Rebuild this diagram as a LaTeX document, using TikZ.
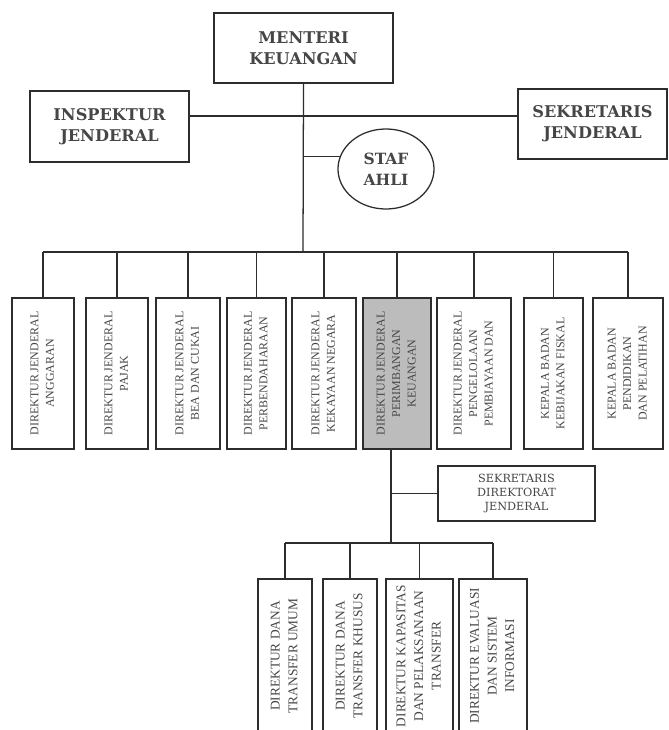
\documentclass[tikz,border=0pt]{standalone}
\usepackage{fontspec}
\setmainfont{DejaVu Serif}
\newfontfamily\narrowfont{Liberation Serif}
\usepackage{tikz}
\usetikzlibrary{shapes.geometric, positioning, calc}
\definecolor{linegray}{RGB}{45,45,45}
\definecolor{textgray}{RGB}{70,70,70}
\definecolor{shadegray}{RGB}{188,188,188}

\newcommand{\vtext}[1]{\rotatebox{90}{\begin{tabular}{@{}c@{}}#1\end{tabular}}}

\begin{document}
\begin{tikzpicture}[
  x=0.025cm, y=-0.025cm,
  topbox/.style={rectangle, draw=linegray, line width=0.9pt, fill=white, align=center,
                 text=textgray, font=\bfseries\fontsize{11.5}{15}\selectfont, inner sep=2pt},
  ahli/.style={ellipse, draw=linegray, line width=0.9pt, fill=white, align=center,
               text=textgray, font=\bfseries\fontsize{11}{15}\selectfont, inner sep=0pt},
  dirbox/.style={rectangle, draw=linegray, line width=0.9pt, fill=white, inner sep=1pt,
                 minimum height=3.775cm, text=textgray, font=\narrowfont\fontsize{8.5}{11}\selectfont},
  subbox/.style={dirbox, minimum height=3.85cm, font=\narrowfont\fontsize{9.5}{12.5}\selectfont},
  sesbox/.style={topbox, font=\fontsize{8}{10}\selectfont},
  link/.style={draw=linegray, line width=0.9pt}
]
\clip (0,0) rectangle (669,730);
\fill[white] (0,0) rectangle (669,730);

\node[topbox, minimum width=4.475cm, minimum height=1.75cm] (menteri) at (303.5,48) {MENTERI\\KEUANGAN};
\node[topbox, minimum width=3.975cm, minimum height=1.775cm] (irjen) at (109.5,126.5) {INSPEKTUR\\JENDERAL};
\node[topbox, minimum width=3.725cm, minimum height=1.75cm] (sekjen) at (592.5,124) {SEKRETARIS\\JENDERAL};
\node[ahli, minimum width=2.4cm, minimum height=2cm] (staf) at (386,169) {STAF\\AHLI};

\coordinate (hub) at (303,116);
\coordinate (bus) at (303,252);
\coordinate (lobus) at (391,543);

\node[dirbox, minimum width=1.55cm] (dj1) at (43,373.5) {\vtext{DIREKTUR JENDERAL\\ANGGARAN}};
\node[dirbox, minimum width=1.55cm] (dj2) at (117,373.5) {\vtext{DIREKTUR JENDERAL\\PAJAK}};
\node[dirbox, minimum width=1.6cm] (dj3) at (188,373.5) {\vtext{DIREKTUR JENDERAL\\BEA DAN CUKAI}};
\node[dirbox, minimum width=1.475cm] (dj4) at (256.5,373.5) {\vtext{DIREKTUR JENDERAL\\PERBENDAHARAAN}};
\node[dirbox, minimum width=1.6cm] (dj5) at (324,373.5) {\vtext{DIREKTUR JENDERAL\\KEKAYAAN NEGARA}};
\node[dirbox, minimum width=1.7cm, fill=shadegray] (dj6) at (397,373.5) {\vtext{DIREKTUR JENDERAL\\PERIMBANGAN\\KEUANGAN}};
\node[dirbox, minimum width=1.85cm] (dj7) at (474,373.5) {\vtext{DIREKTUR JENDERAL\\PENGELOLAAN\\PEMBIAYAAN DAN}};
\node[dirbox, minimum width=1.475cm] (dj8) at (553.5,373.5) {\vtext{KEPALA BADAN\\KEBIJAKAN FISKAL}};
\node[dirbox, minimum width=1.75cm] (dj9) at (628,373.5) {\vtext{KEPALA BADAN\\PENDIDIKAN\\DAN PELATIHAN}};

\node[sesbox, minimum width=3.925cm, minimum height=1.375cm] (sesdit) at (516.5,493.5) {SEKRETARIS\\DIREKTORAT\\JENDERAL};

\node[subbox, minimum width=1.35cm] (dir1) at (285,656) {\vtext{DIREKTUR DANA\\TRANSFER UMUM}};
\node[subbox, minimum width=1.35cm] (dir2) at (350,656) {\vtext{DIREKTUR DANA\\TRANSFER KHUSUS}};
\node[subbox, minimum width=1.675cm] (dir3) at (419.5,656) {\vtext{DIREKTUR KAPASITAS\\DAN PELAKSANAAN\\TRANSFER}};
\node[subbox, minimum width=1.7cm] (dir4) at (493,656) {\vtext{DIREKTUR EVALUASI\\DAN SISTEM\\INFORMASI}};

\draw[link] (menteri.south) -- (bus);
\draw[link] (irjen.east |- hub) -- (sekjen.west |- hub);
\draw[link] (staf.165 -| hub) -- (staf.165);
\draw[link] (dj1.north |- bus) -- (dj9.north |- bus);
\foreach \n in {dj1,dj2,dj3,dj4,dj5,dj6,dj7,dj8,dj9}
  \draw[link] (\n.north) -- (\n.north |- bus);

\draw[link] (dj6.south -| lobus) -- (lobus);
\draw[link] (sesdit.west -| lobus) -- (sesdit.west);
\draw[link] (dir1.north |- lobus) -- (dir4.north |- lobus);
\foreach \n in {dir1,dir2,dir3,dir4}
  \draw[link] (\n.north) -- (\n.north |- lobus);

\end{tikzpicture}
\end{document}
